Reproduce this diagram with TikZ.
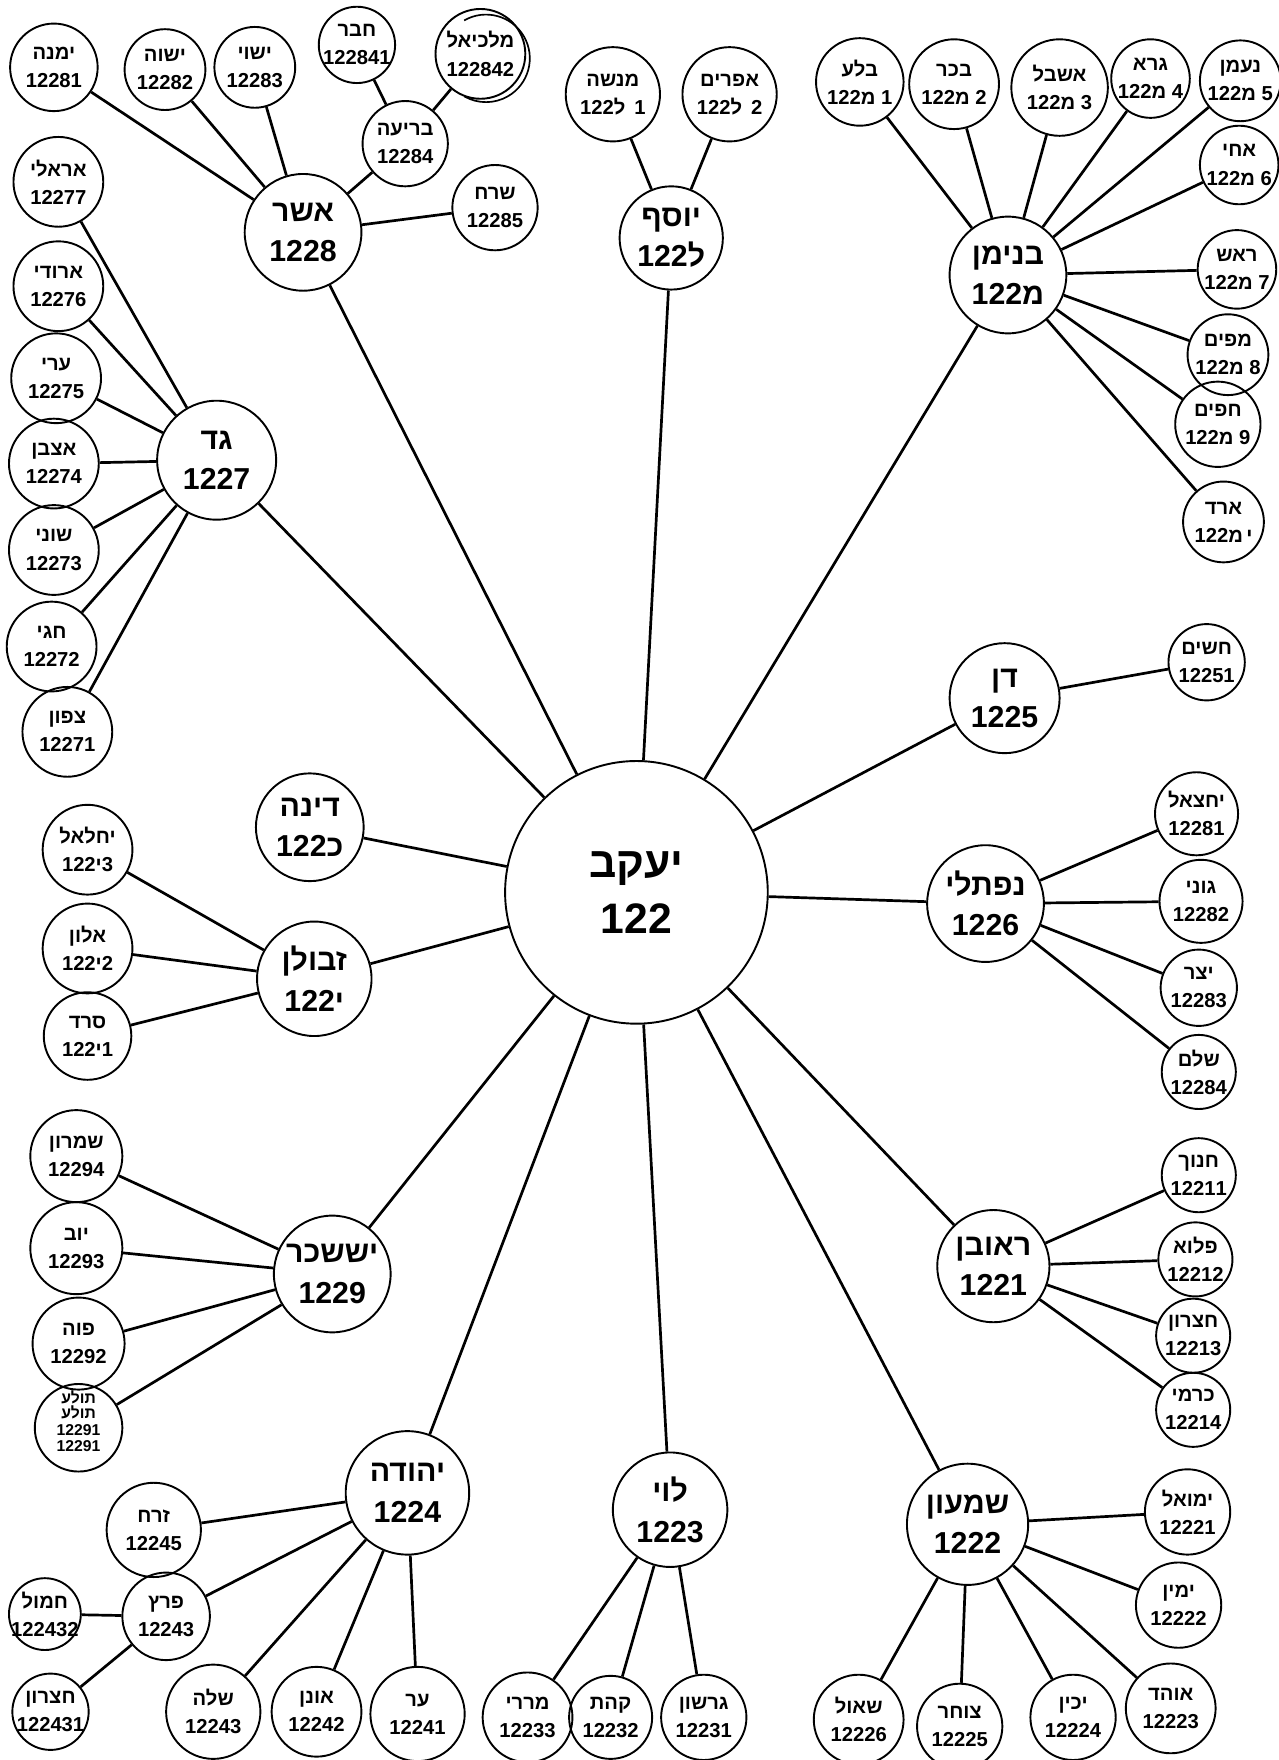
\documentclass[tikz,border=0pt]{standalone}
\usepackage{fontspec}
\newfontfamily\hebfont[Script=Hebrew]{Liberation Sans}
\TeXXeTstate=1
\newcommand\hb[1]{\beginR#1\endR}
\newcommand\cd[3]{\mbox{#1}\mbox{#2}\mbox{#3}}
\tikzset{
  x=1pt, y=-1pt,
  personc/.style={circle, draw, line width=1.7pt, inner sep=0pt},
  persontxt/.style={inner sep=0pt, align=center, font=\hebfont\bfseries\fontsize{18}{25}\selectfont},
  smalltxt/.style={inner sep=0pt, font=\hebfont\bfseries\fontsize{14}{15}\selectfont},
  tribetxt/.style={inner sep=0pt, align=center, font=\hebfont\bfseries\fontsize{27}{36}\selectfont},
  roottxt/.style={inner sep=0pt, align=center, font=\hebfont\bfseries\fontsize{38}{50}\selectfont},
  edge/.style={line width=2.4pt},
}
\newcommand\pnode[5]{\node[personc, minimum size=#4pt] (#1) at (#2,#3) {}; \node[persontxt] at (#1) {#5};}
\newcommand\tnode[5]{\node[personc, minimum size=#4pt] (#1) at (#2,#3) {}; \node[tribetxt] at (#1) {#5};}
\begin{document}
\begin{tikzpicture}
\fill[white] (0,0) rectangle (1139,1568);
\useasboundingbox (0,0) rectangle (1139,1568);
% root
\node[personc, minimum size=234pt] (J) at (567,795) {};
\node[roottxt] at (J) {\hb{יעקב}\\122};
% Asher
\tnode{asher}{270}{207}{104}{\hb{אשר}\\1228}
\pnode{yimna}{48}{60}{78}{\hb{ימנה}\\12281}
\pnode{yishva}{147}{62}{72}{\hb{ישוה}\\12282}
\pnode{yishvi}{227}{60}{72}{\hb{ישוי}\\12283}
\pnode{hever}{318}{40}{68}{\hb{חבר}\\122841}
\pnode{malkiel}{428}{48}{80}{\hb{מלכיאל}\\122842}
\draw[line width=1.5pt] (433,52) ++(-120:39) arc[start angle=-120, end angle=120, radius=39];
\pnode{beria}{361}{128}{76}{\hb{בריעה}\\12284}
\pnode{serah}{441}{185}{76}{\hb{שרח}\\12285}
% Joseph
\tnode{yosef}{598}{212}{92}{\hb{יוסף}\\\cd{122}{ל}{}}
\pnode{menashe}{546}{84}{84}{\hb{מנשה}\\\cd{122}{ל}{\hspace{8pt}1}}
\pnode{efraim}{650}{84}{84}{\hb{אפרים}\\\cd{122}{ל}{\hspace{8pt}2}}
% Benjamin
\tnode{binyamin}{898}{245}{104}{\hb{בנימן}\\\cd{122}{מ}{}}
\pnode{bela}{766}{73}{78}{\hb{בלע}\\\cd{122}{מ}{\hspace{5pt}1}}
\pnode{becher}{850}{75}{80}{\hb{בכר}\\\cd{122}{מ}{\hspace{5pt}2}}
\pnode{ashbel}{944}{78}{86}{\hb{אשבל}\\\cd{122}{מ}{\hspace{5pt}3}}
\pnode{gera}{1025}{70}{70}{\hb{גרא}\\\cd{122}{מ}{\hspace{5pt}4}}
\pnode{naaman}{1105}{72}{72}{\hb{נעמן}\\\cd{122}{מ}{\hspace{5pt}5}}
\pnode{ehi}{1104}{147}{70}{\hb{אחי}\\\cd{122}{מ}{\hspace{5pt}6}}
\pnode{rosh}{1102}{240}{70}{\hb{ראש}\\\cd{122}{מ}{\hspace{5pt}7}}
\pnode{muppim}{1094}{316}{72}{\hb{מפים}\\\cd{122}{מ}{\hspace{5pt}8}}
\pnode{huppim}{1085}{378}{76}{\hb{חפים}\\\cd{122}{מ}{\hspace{5pt}9}}
\pnode{ard}{1090}{465}{72}{\hb{ארד}\\\cd{122}{מ}{\hspace{3pt}י}}
% Gad
\tnode{gad}{193}{410}{106}{\hb{גד}\\1227}
\pnode{areli}{52}{162}{80}{\hb{אראלי}\\12277}
\pnode{arodi}{52}{255}{80}{\hb{ארודי}\\12276}
\pnode{eri}{50}{337}{80}{\hb{ערי}\\12275}
\pnode{ezbon}{48}{413}{80}{\hb{אצבן}\\12274}
\pnode{shuni}{48}{490}{80}{\hb{שוני}\\12273}
\pnode{haggi}{46}{576}{80}{\hb{חגי}\\12272}
\pnode{zephon}{60}{652}{80}{\hb{צפון}\\12271}
% Dan
\tnode{dan}{895}{622}{98}{\hb{דן}\\1225}
\pnode{hushim}{1075}{590}{68}{\hb{חשים}\\12251}
% Naftali
\tnode{naftali}{878}{805}{104}{\hb{נפתלי}\\1226}
\pnode{yahzeel}{1066}{725}{74}{\hb{יחצאל}\\12281}
\pnode{guni}{1070}{803}{74}{\hb{גוני}\\12282}
\pnode{yezer}{1068}{880}{68}{\hb{יצר}\\12283}
\pnode{shillem}{1068}{955}{66}{\hb{שלם}\\12284}
% Dinah
\tnode{dina}{276}{737}{96}{\hb{דינה}\\\cd{122}{כ}{}}
% Zebulun
\tnode{zevulun}{280}{872}{102}{\hb{זבולן}\\\cd{122}{י}{}}
\pnode{yahleel}{78}{757}{80}{\hb{יחלאל}\\\cd{122}{י}{3}}
\pnode{elon}{78}{845}{80}{\hb{אלון}\\\cd{122}{י}{2}}
\pnode{sered}{78}{923}{78}{\hb{סרד}\\\cd{122}{י}{1}}
% Issachar
\tnode{yissachar}{296}{1135}{104}{\hb{יששכר}\\1229}
\pnode{shimron}{68}{1030}{82}{\hb{שמרון}\\12294}
\pnode{yov}{68}{1112}{82}{\hb{יוב}\\12293}
\pnode{puah}{70}{1197}{82}{\hb{פוה}\\12292}
\node[personc, minimum size=78pt] (tola) at (70,1272) {};
\node[smalltxt] at (70,1245) {\hb{תולע}};
\node[smalltxt] at (70,1258) {\hb{תולע}};
\node[smalltxt] at (70,1274) {12291};
\node[smalltxt] at (70,1288) {12291};
% Judah
\tnode{yehuda}{363}{1330}{110}{\hb{יהודה}\\1224}
\pnode{zerah}{137}{1363}{84}{\hb{זרח}\\12245}
\pnode{perez}{148}{1440}{78}{\hb{פרץ}\\12243}
\pnode{hamul}{40}{1438}{64}{\hb{חמול}\\122432}
\pnode{hezron}{45}{1525}{68}{\hb{חצרון}\\122431}
\pnode{shelah}{190}{1525}{84}{\hb{שלה}\\12243}
\pnode{onan}{282}{1525}{80}{\hb{אונן}\\12242}
\pnode{er}{372}{1527}{84}{\hb{ער}\\12241}
% Levi
\tnode{levi}{597}{1345}{102}{\hb{לוי}\\1223}
\pnode{merari}{470}{1530}{80}{\hb{מררי}\\12233}
\pnode{kehat}{544}{1530}{74}{\hb{קהת}\\12232}
\pnode{gershon}{627}{1530}{76}{\hb{גרשון}\\12231}
% Simeon
\tnode{shimon}{862}{1358}{108}{\hb{שמעון}\\1222}
\pnode{yemuel}{1058}{1347}{76}{\hb{ימואל}\\12221}
\pnode{yamin}{1050}{1430}{76}{\hb{ימין}\\12222}
\pnode{ohad}{1043}{1522}{80}{\hb{אוהד}\\12223}
\pnode{yachin}{956}{1530}{76}{\hb{יכין}\\12224}
\pnode{zohar}{855}{1538}{76}{\hb{צוחר}\\12225}
\pnode{shaul}{765}{1532}{80}{\hb{שאול}\\12226}
% Reuben
\tnode{reuven}{885}{1128}{100}{\hb{ראובן}\\1221}
\pnode{hanoch}{1068}{1047}{66}{\hb{חנוך}\\12211}
\pnode{pallu}{1065}{1122}{66}{\hb{פלוא}\\12212}
\pnode{hezronb}{1063}{1190}{66}{\hb{חצרון}\\12213}
\pnode{carmi}{1063}{1256}{66}{\hb{כרמי}\\12214}
% edges
\foreach \a/\b in {J/asher,J/yosef,J/binyamin,J/gad,J/dan,J/naftali,J/dina,J/zevulun,J/yissachar,J/yehuda,J/levi,J/shimon,J/reuven,
  asher/yimna,asher/yishva,asher/yishvi,asher/beria,asher/serah,beria/hever,beria/malkiel,
  yosef/menashe,yosef/efraim,
  binyamin/bela,binyamin/becher,binyamin/ashbel,binyamin/gera,binyamin/naaman,binyamin/ehi,binyamin/rosh,binyamin/muppim,binyamin/huppim,binyamin/ard,
  gad/areli,gad/arodi,gad/eri,gad/ezbon,gad/shuni,gad/haggi,gad/zephon,
  dan/hushim,
  naftali/yahzeel,naftali/guni,naftali/yezer,naftali/shillem,
  zevulun/yahleel,zevulun/elon,zevulun/sered,
  yissachar/shimron,yissachar/yov,yissachar/puah,yissachar/tola,
  yehuda/zerah,yehuda/perez,yehuda/shelah,yehuda/onan,yehuda/er,perez/hamul,perez/hezron,
  levi/merari,levi/kehat,levi/gershon,
  shimon/yemuel,shimon/yamin,shimon/ohad,shimon/yachin,shimon/zohar,shimon/shaul,
  reuven/hanoch,reuven/pallu,reuven/hezronb,reuven/carmi}
  \draw[edge] (\a) -- (\b);
\end{tikzpicture}
\end{document}
